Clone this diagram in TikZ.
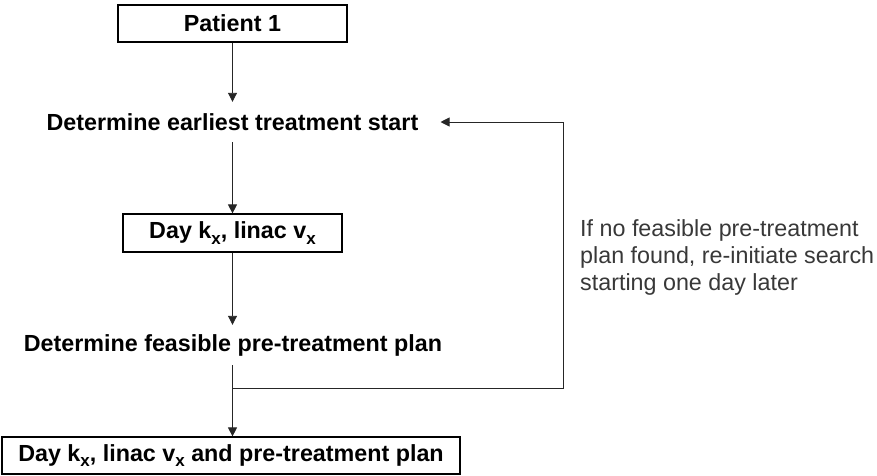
\documentclass[tikz,border=0pt]{standalone}
\usepackage{fontspec}
\setmainfont{Liberation Sans}
\usetikzlibrary{arrows.meta}
% lowered, reduced "x" index used in the step labels
\newcommand{\idxx}{\raisebox{-0.42ex}{\fontsize{17}{17}\selectfont x}}
\begin{document}
\begin{tikzpicture}[x=1pt,y=-1pt,
  every node/.style={font=\fontsize{23.3}{27}\selectfont},
  stepbox/.style={draw, line width=1.2pt, inner sep=0pt, font=\fontsize{23.3}{27}\selectfont\bfseries},
  steptext/.style={inner sep=0pt, minimum height=40pt, font=\fontsize{23.3}{27}\selectfont\bfseries},
  notetext/.style={inner sep=0pt, align=left, text=black!78, font=\fontsize{23.3}{27}\selectfont},
  flow/.style={line width=0.9pt, draw=black!85, -{Triangle[length=9pt,width=9pt]}}]
\useasboundingbox (0,0) rectangle (877,475);

% process column
\node[stepbox, minimum width=229pt, minimum height=37pt] (p1) at (232.5,23.5) {Patient 1};
\node[steptext] (det1) at (232.5,122) {Determine earliest treatment start};
\node[stepbox, minimum width=219pt, minimum height=38pt] (day) at (232.5,233)
  {Day k\idxx, linac v\idxx};
\node[steptext] (det2) at (233,345) {Determine feasible pre-treatment plan};
\node[stepbox, minimum width=458pt, minimum height=37pt] (res) at (231,455.5)
  {Day k\idxx, linac v\idxx\ and pre-treatment plan};

% explanation of the loop
\node[notetext, anchor=west] (note) at (580,257)
  {If no feasible pre-treatment\\plan found, re-initiate search\\starting one day later};

% connectors, kept vertical
\draw[flow] (p1.south) -- (det1.north);
\draw[flow] (det1.south) -- (day.north);
\draw[flow] (day.south) -- (day.south |- det2.north);
\draw[flow] (det2.south -| day.south) -- (day.south |- res.north);

% feedback loop
\coordinate (split) at (232.5,388);
\coordinate (corner) at (563,388);
\draw[flow, shorten >=22pt] (split) -- (corner) -- (corner |- det1.east) -- (det1.east);
\end{tikzpicture}
\end{document}
